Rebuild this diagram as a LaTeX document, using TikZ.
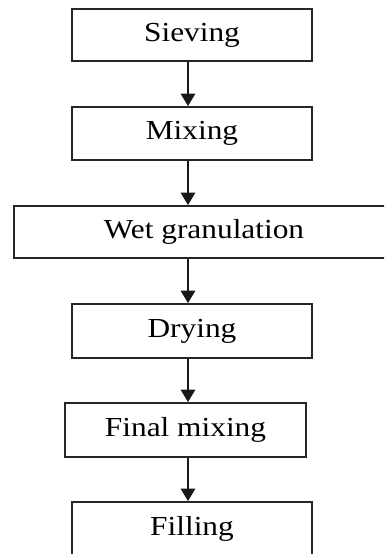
\documentclass[tikz,border=0pt]{standalone}
\usepackage{fontspec}
\setmainfont{Liberation Serif}[FakeStretch=1.14]
\usetikzlibrary{arrows.meta}

\begin{document}
\begin{tikzpicture}[x=1pt, y=-1pt,
    box/.style={draw=black!85, line width=1.8pt, minimum height=53pt,
      inner sep=0pt, font=\fontsize{27.5}{33}\selectfont},
    flow/.style={-{Triangle[width=14.5pt, length=12.5pt]}, line width=1.6pt, black!90}]
  \useasboundingbox (0,0) rectangle (384,554);
  \clip (0,0) rectangle (384,554);

  \node[box, minimum width=240pt, minimum height=52pt] (sieving) at (192,35) {Sieving};
  \node[box, minimum width=240pt] (mixing) at (192,133.5) {Mixing};
  \node[box, minimum width=380pt, minimum height=52pt] (wet) at (204,232) {Wet granulation};
  \node[box, minimum width=240pt, minimum height=54pt] (drying) at (192,331) {Drying};
  \node[box, minimum width=241pt, minimum height=54pt] (final) at (185.5,430) {Final mixing};
  \node[box, minimum width=240pt, minimum height=54pt] (filling) at (192,529) {Filling};

  \coordinate (ax) at (188,0);

  \draw[flow] (sieving.south -| ax) -- (mixing.north -| ax);
  \draw[flow] (mixing.south -| ax) -- (wet.north -| ax);
  \draw[flow] (wet.south -| ax) -- (drying.north -| ax);
  \draw[flow] (drying.south -| ax) -- (final.north -| ax);
  \draw[flow] (final.south -| ax) -- (filling.north -| ax);
\end{tikzpicture}
\end{document}
